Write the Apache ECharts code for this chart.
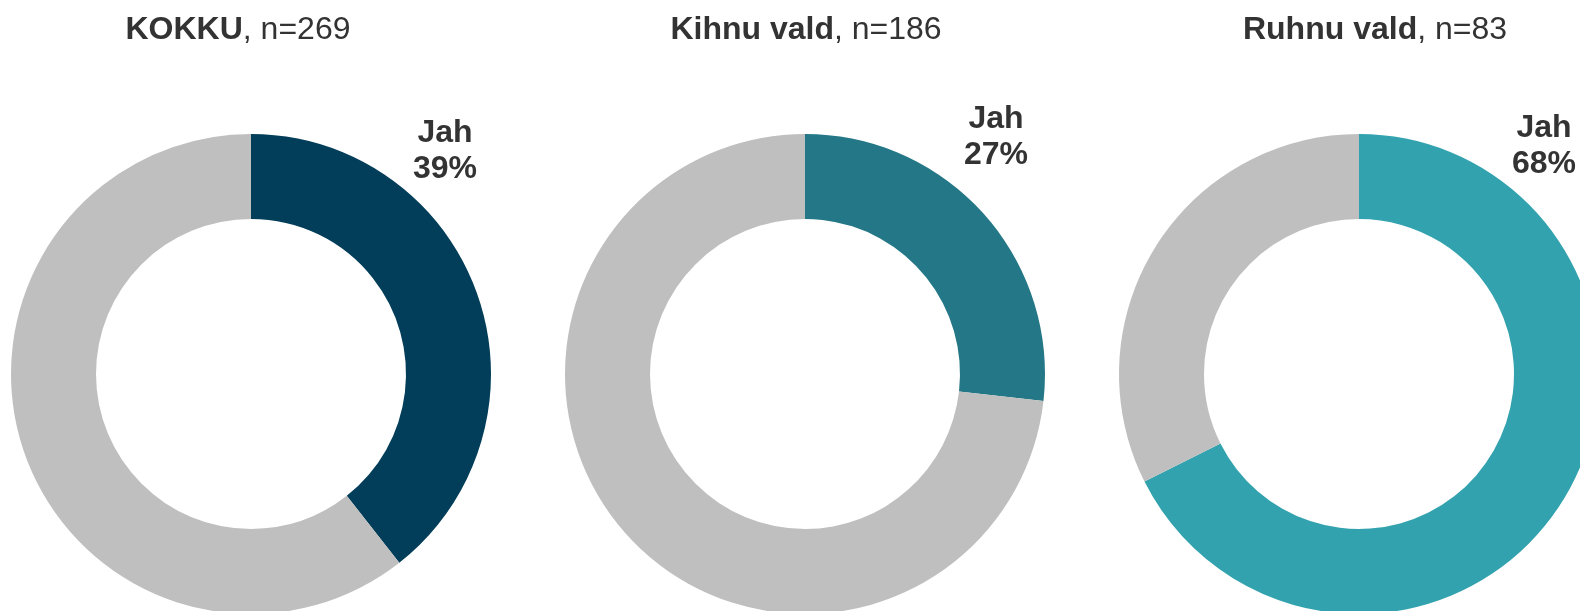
<!DOCTYPE html>
<html>
<head>
<meta charset="utf-8">
<script src="https://cdn.jsdelivr.net/npm/echarts@6/dist/echarts.min.js"></script>
<style>
  html, body { margin: 0; padding: 0; background: #fff; }
  #chart { width: 1580px; height: 611px; }
</style>
</head>
<body>
<div id="chart"></div>
<script>
// andmed
const groups = ['KOKKU', 'Kihnu vald', 'Ruhnu vald'];
const sampleSizes = [269, 186, 83];
const categories = ['Jah', 'Ei'];
const yesShare = [39.4, 26.8, 67.6];
const yesColors = ['#023d59', '#247786', '#31a2ae'];

const centersX = [251, 805, 1359];
const labelPos = [[445, 151], [996, 137], [1544, 146]];

const myChart = echarts.init(document.getElementById('chart'));

const titles = groups.map(function (g, i) {
    return {
        text: '{b|' + g + '}, n=' + sampleSizes[i],
        left: centersX[i] + [-18, -4, 11][i],
        top: 9,
        textAlign: 'center',
        textStyle: {
            fontFamily: 'Liberation Sans',
            fontSize: 32,
            fontWeight: 'normal',
            color: '#333333',
            rich: {
                b: { fontFamily: 'Liberation Sans', fontSize: 32, fontWeight: 'bold', color: '#333333' }
            }
        }
    };
});

const series = groups.map(function (g, i) {
    return {
        type: 'pie',
        name: g,
        center: [centersX[i], 374],
        radius: [155, 240],
        startAngle: 90,
        clockwise: true,
        silent: true,
        animation: false,
        labelLine: { show: false },
        labelLayout: function () {
            return { x: labelPos[i][0], y: labelPos[i][1], align: 'center', verticalAlign: 'middle' };
        },
        data: [
            {
                name: categories[0],
                value: yesShare[i],
                itemStyle: { color: yesColors[i] },
                label: {
                    show: true,
                    position: 'inside',
                    formatter: function (p) { return p.name + '\n' + Math.round(p.value) + '%'; },
                    fontFamily: 'Liberation Sans',
                    fontSize: 32,
                    fontWeight: 'bold',
                    lineHeight: 36,
                    color: '#333333'
                }
            },
            {
                name: categories[1],
                value: 100 - yesShare[i],
                itemStyle: { color: '#bfbfbf' },
                label: { show: false }
            }
        ]
    };
});

myChart.setOption({
    backgroundColor: '#ffffff',
    title: titles,
    series: series
});
</script>
</body>
</html>
